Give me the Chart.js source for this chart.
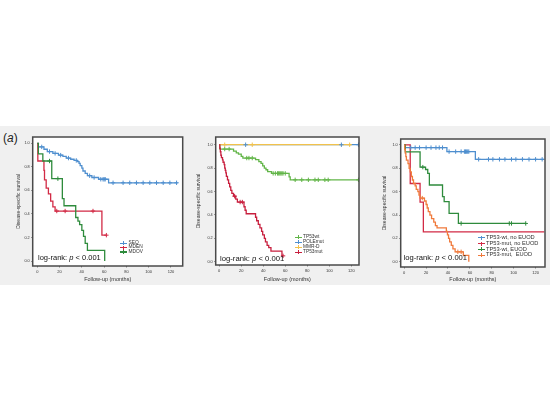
<!DOCTYPE html>
<html><head><meta charset="utf-8">
<script src="https://cdn.jsdelivr.net/npm/chart.js@4.4.0/dist/chart.umd.min.js"></script>
<style>
html,body{margin:0;padding:0;background:#fff;width:550px;height:412px;overflow:hidden;font-family:'Liberation Sans',Arial,sans-serif;}
#band{position:absolute;left:0;top:126px;width:550px;height:159px;background:#f0f0f0;}
canvas{position:absolute;}
.lab{position:absolute;color:#222;white-space:nowrap;}
.leg{position:absolute;color:#333;white-space:nowrap;}
.leg div{display:flex;align-items:center;}
.sym{display:inline-block;position:relative;width:7px;height:4px;margin-right:1.5px;flex:none;}
.sym::before{content:'';position:absolute;left:0;right:0;top:1.4px;height:1.2px;background:var(--c);}
.sym::after{content:'';position:absolute;left:3px;width:1.1px;top:0;bottom:0;background:var(--c);}
</style></head>
<body>
<div id="band"></div>
<div class="lab" style="left:3px;top:131px;font-size:12px;">(<i>a</i>)</div>
<canvas id="c1" width="178" height="156" style="left:10px;top:128px;"></canvas>
<canvas id="c2" width="176" height="156" style="left:188px;top:128px;"></canvas>
<canvas id="c3" width="186" height="156" style="left:364px;top:128px;"></canvas>
<div id="legs"></div>
<script>
// ---------- data ----------
const xTicks = [0, 20, 40, 60, 80, 100, 120];
const yTicks = [0, 0.2, 0.4, 0.6, 0.8, 1.0];
const xTitle = 'Follow-up (months)';
const yTitle = 'Disease-specific survival';
const testText = 'log-rank: ';

// Panel 1
const seqTime = [0, 1, 6, 9, 14, 19, 23, 26, 30, 33, 36, 37.5, 38.5, 40, 41, 43, 45, 49, 55, 64];
const seqSurv = [1, 0.97, 0.95, 0.93, 0.915, 0.90, 0.89, 0.875, 0.865, 0.855, 0.845, 0.83, 0.81, 0.79, 0.765, 0.745, 0.725, 0.71, 0.695, 0.665];
const seqEnd = 126;
const seqCens = [4, 11, 16, 21, 28, 35, 47, 51, 57, 59, 60, 61, 68, 77, 83, 89, 95, 101, 107, 113, 119, 125];

const mdenTime = [0, 0.5, 6, 6.5, 8, 10, 12, 14, 16, 58];
const mdenSurv = [1, 0.85, 0.77, 0.69, 0.62, 0.57, 0.51, 0.46, 0.425, 0.22];
const mdenEnd = 62;
const mdenCens = [17.5, 25, 50, 62];

const mdovTime = [0, 1, 5, 13, 22.5, 24, 34.5, 36.5, 38, 40, 41.5, 43, 45, 60.5];
const mdovSurv = [1, 0.91, 0.85, 0.70, 0.53, 0.47, 0.37, 0.34, 0.31, 0.26, 0.21, 0.15, 0.09, 0.0];
const mdovEnd = 60.5;
const mdovCens = [11, 18.5];

// Panel 2
const tp53wtTime = [0, 0.6, 13, 15.5, 17.5, 20, 21.5, 33, 36, 38, 39.5, 41, 42.5, 44, 47.5, 63.5, 64.5];
const tp53wtSurv = [1, 0.963, 0.945, 0.93, 0.92, 0.90, 0.886, 0.872, 0.855, 0.84, 0.82, 0.80, 0.786, 0.77, 0.755, 0.725, 0.70];
const tp53wtEnd = 126.5;
const tp53wtCens = [5, 9, 25, 27, 30, 49, 51, 53, 54, 55, 56, 57, 58, 60, 69, 75, 81, 87, 90, 96, 99, 126.5];

const polTime = [0];
const polSurv = [1];
const polEnd = 126.5;
const polCens = [24, 111, 126.5];

const mmrTime = [0];
const mmrSurv = [1];
const mmrEnd = 120;
const mmrCens = [5, 30, 118.5];

const tp53mutTime = [0, 0.5, 1, 1.5, 2, 3, 3.5, 4.5, 5, 5.5, 6, 6.5, 7.5, 8.5, 9.5, 10.5, 11.5, 13, 15, 16.5, 22.5, 23.5, 24.5, 33, 34, 35.5, 37, 38.5, 39.5, 41, 42, 43.5, 45, 47, 57];
const tp53mutSurv = [1, 0.97, 0.94, 0.91, 0.89, 0.87, 0.85, 0.83, 0.80, 0.78, 0.76, 0.73, 0.70, 0.67, 0.64, 0.61, 0.585, 0.56, 0.535, 0.51, 0.47, 0.44, 0.41, 0.38, 0.35, 0.32, 0.29, 0.26, 0.23, 0.20, 0.17, 0.14, 0.12, 0.09, 0.05];
const tp53mutEnd = 58;
const tp53mutCens = [14, 19, 21, 58];

// Panel 3
const wtNoTime = [0, 1, 39, 65];
const wtNoSurv = [1, 0.977, 0.943, 0.877];
const wtNoEnd = 128;
const wtNoCens = [6, 10, 14, 20, 24.5, 29, 32, 35, 41, 47, 52, 55, 56, 57, 58, 59, 68, 77, 81, 87, 92, 98, 102, 108, 114, 120, 126];

const mutNoTime = [0, 5.5, 14.5, 17.5];
const mutNoSurv = [1, 0.67, 0.51, 0.255];
const mutNoEnd = 128;
const mutNoCens = [];

const wtEuTime = [0, 1, 14.5, 19.5, 21.5, 23, 35, 36.5, 41, 49.5];
const wtEuSurv = [1, 0.94, 0.81, 0.79, 0.757, 0.657, 0.557, 0.514, 0.414, 0.328];
const wtEuEnd = 111;
const wtEuCens = [17, 52, 96, 98, 111];

const mutEuTime = [0, 0.5, 1, 1.5, 2, 3.5, 4.5, 5.5, 6.5, 7.5, 8.5, 10, 11, 12.5, 13.5, 14.5, 18.5, 20, 21, 22, 23.5, 25, 27, 28.5, 30, 38.5, 39.5, 40.5, 41.5, 43, 44.5, 46.5, 54, 59];
const mutEuSurv = [1, 0.96, 0.93, 0.90, 0.87, 0.84, 0.80, 0.77, 0.73, 0.70, 0.67, 0.65, 0.62, 0.60, 0.57, 0.545, 0.52, 0.49, 0.46, 0.43, 0.40, 0.37, 0.34, 0.31, 0.29, 0.26, 0.23, 0.20, 0.17, 0.14, 0.11, 0.085, 0.055, 0.0];
const mutEuEnd = 59;
const mutEuCens = [16.5, 49, 52];

// ---------- rendering ----------
Chart.defaults.font.family = "'Liberation Sans', Arial, sans-serif";
Chart.defaults.color = '#333';

const BLUE = '#4f8fcf', RED = '#d22a45', DGREEN = '#2e8b3c', LGREEN = '#62b548', YELLOW = '#f2c24c', ORANGE = '#f07a3c', CRIMSON = '#c81f3e';

const panels = [
  { id: 'c1', left: 10, top: 128, padTop: 9, padRight: 5.3, yW: 22.7, xH: 18, yTitlePad: 6, xTitlePad: 1.4,
    xMin: -4.1, xMax: 130.5, yMin: -0.042, yMax: 1.054,
    series: [
      { label: 'SEQ', color: BLUE, time: seqTime, surv: seqSurv, end: seqEnd, cens: seqCens },
      { label: 'MDEN', color: RED, time: mdenTime, surv: mdenSurv, end: mdenEnd, cens: mdenCens },
      { label: 'MDOV', color: DGREEN, time: mdovTime, surv: mdovSurv, end: mdovEnd, cens: mdovCens }
    ],
    legend: { left: 120, top: 241, fs: 4.8, lh: 4.4 },
    test: { left: 38, top: 252.5, fs: 7.5 } },
  { id: 'c2', left: 188, top: 128, padTop: 9, padRight: 3.3, yW: 27.7, xH: 19, yTitlePad: 7.3, xTitlePad: 1.4,
    xMin: -3.2, xMax: 127, yMin: -0.028, yMax: 1.066,
    series: [
      { label: 'TP53wt', color: LGREEN, time: tp53wtTime, surv: tp53wtSurv, end: tp53wtEnd, cens: tp53wtCens },
      { label: 'POLEmut', color: BLUE, time: polTime, surv: polSurv, end: polEnd, cens: polCens },
      { label: 'MMR-D', color: YELLOW, time: mmrTime, surv: mmrSurv, end: mmrEnd, cens: mmrCens },
      { label: 'TP53mut', color: CRIMSON, time: tp53mutTime, surv: tp53mutSurv, end: tp53mutEnd, cens: tp53mutCens }
    ],
    legend: { left: 294.5, top: 235, fs: 4.8, lh: 4.9 },
    test: { left: 220, top: 253.5, fs: 7.7 } },
  { id: 'c3', left: 364, top: 128, padTop: 11, padRight: 2.3, yW: 36.7, xH: 17, yTitlePad: 18, xTitlePad: 1.4,
    xMin: -3.2, xMax: 128.6, yMin: -0.045, yMax: 1.051,
    series: [
      { label: 'TP53-wt, no EUOD', color: BLUE, time: wtNoTime, surv: wtNoSurv, end: wtNoEnd, cens: wtNoCens },
      { label: 'TP53-mut, no EUOD', color: RED, time: mutNoTime, surv: mutNoSurv, end: mutNoEnd, cens: mutNoCens },
      { label: 'TP53-wt, EUOD', color: DGREEN, time: wtEuTime, surv: wtEuSurv, end: wtEuEnd, cens: wtEuCens },
      { label: 'TP53-mut,  EUOD', color: ORANGE, time: mutEuTime, surv: mutEuSurv, end: mutEuEnd, cens: mutEuCens }
    ],
    legend: { left: 477.5, top: 235, fs: 5.7, lh: 5.8 },
    test: { left: 403.5, top: 253, fs: 7.6 } }
];

function survAt(time, surv, t) {
  let s = surv[0];
  for (let i = 0; i < time.length; i++) if (time[i] <= t) s = surv[i];
  return s;
}

const boxPlugin = {
  id: 'box',
  beforeDatasetsDraw(chart) {
    const a = chart.chartArea, ctx = chart.ctx;
    ctx.save(); ctx.fillStyle = '#fff';
    ctx.fillRect(a.left, a.top, a.right - a.left, a.bottom - a.top);
    ctx.restore();
  },
  afterDraw(chart) {
    const a = chart.chartArea, ctx = chart.ctx;
    ctx.save(); ctx.strokeStyle = '#4a4a4a'; ctx.lineWidth = 1.5;
    ctx.strokeRect(a.left, a.top, a.right - a.left, a.bottom - a.top);
    ctx.restore();
  }
};

panels.forEach(p => {
  const datasets = [];
  p.series.forEach((s, k) => {
    const pts = s.time.map((t, i) => ({ x: t, y: s.surv[i] }));
    pts.push({ x: s.end, y: s.surv[s.surv.length - 1] });
    datasets.push({ label: s.label, data: pts, showLine: true, stepped: 'before', borderColor: s.color,
      borderWidth: 1.3, pointRadius: 0, fill: false, order: 10 - k });
    datasets.push({ label: s.label + ' censored', data: s.cens.map(t => ({ x: t, y: survAt(s.time, s.surv, t) })),
      showLine: false, pointStyle: 'cross', pointRadius: 2.2, pointBorderWidth: 1, borderColor: s.color,
      pointBorderColor: s.color, order: 5 - k });
  });
  new Chart(document.getElementById(p.id), {
    type: 'scatter',
    data: { datasets },
    plugins: [boxPlugin],
    options: {
      responsive: false, animation: false, devicePixelRatio: 1,
      layout: { padding: { top: p.padTop, right: p.padRight, left: 0, bottom: 0 } },
      plugins: { legend: { display: false }, tooltip: { enabled: false } },
      scales: {
        x: {
          type: 'linear', min: p.xMin, max: p.xMax,
          afterBuildTicks: sc => { sc.ticks = xTicks.map(v => ({ value: v })); },
          afterFit: sc => { sc.height = p.xH; },
          ticks: { font: { size: 4 }, padding: 1.5, maxRotation: 0, autoSkip: false, callback: v => String(v), color: '#333' },
          grid: { drawOnChartArea: false, drawTicks: true, tickLength: 1.5, color: '#555', lineWidth: 0.7 },
          border: { display: false },
          title: { display: true, text: xTitle, font: { size: 5.5 }, padding: { top: 0, bottom: p.xTitlePad }, color: '#333' }
        },
        y: {
          type: 'linear', min: p.yMin, max: p.yMax,
          afterBuildTicks: sc => { sc.ticks = yTicks.map(v => ({ value: v })); },
          afterFit: sc => { sc.width = p.yW; },
          ticks: { font: { size: 3.8 }, padding: 1.5, autoSkip: false, callback: v => v.toFixed(1), color: '#333' },
          grid: { drawOnChartArea: false, drawTicks: true, tickLength: 1.5, color: '#555', lineWidth: 0.7 },
          border: { display: false },
          title: { display: true, text: yTitle, font: { size: 5 }, padding: { top: p.yTitlePad, bottom: 0 }, color: '#333' }
        }
      }
    }
  });

  // legend (HTML)
  const leg = document.createElement('div');
  leg.className = 'leg';
  leg.style.left = p.legend.left + 'px';
  leg.style.top = p.legend.top + 'px';
  leg.style.fontSize = p.legend.fs + 'px';
  leg.style.lineHeight = p.legend.lh + 'px';
  p.series.forEach(s => {
    const row = document.createElement('div');
    row.style.height = p.legend.lh + 'px';
    const sym = document.createElement('span');
    sym.className = 'sym'; sym.style.setProperty('--c', s.color);
    const txt = document.createElement('span');
    txt.textContent = s.label; txt.style.whiteSpace = 'pre';
    row.appendChild(sym); row.appendChild(txt);
    leg.appendChild(row);
  });
  document.getElementById('legs').appendChild(leg);

  const t = document.createElement('div');
  t.className = 'lab';
  t.style.left = p.test.left + 'px'; t.style.top = p.test.top + 'px';
  t.style.fontSize = p.test.fs + 'px'; t.style.color = '#111';
  t.innerHTML = testText + '<i>p</i> &lt; 0.001';
  document.getElementById('legs').appendChild(t);
});
</script>
</body></html>
